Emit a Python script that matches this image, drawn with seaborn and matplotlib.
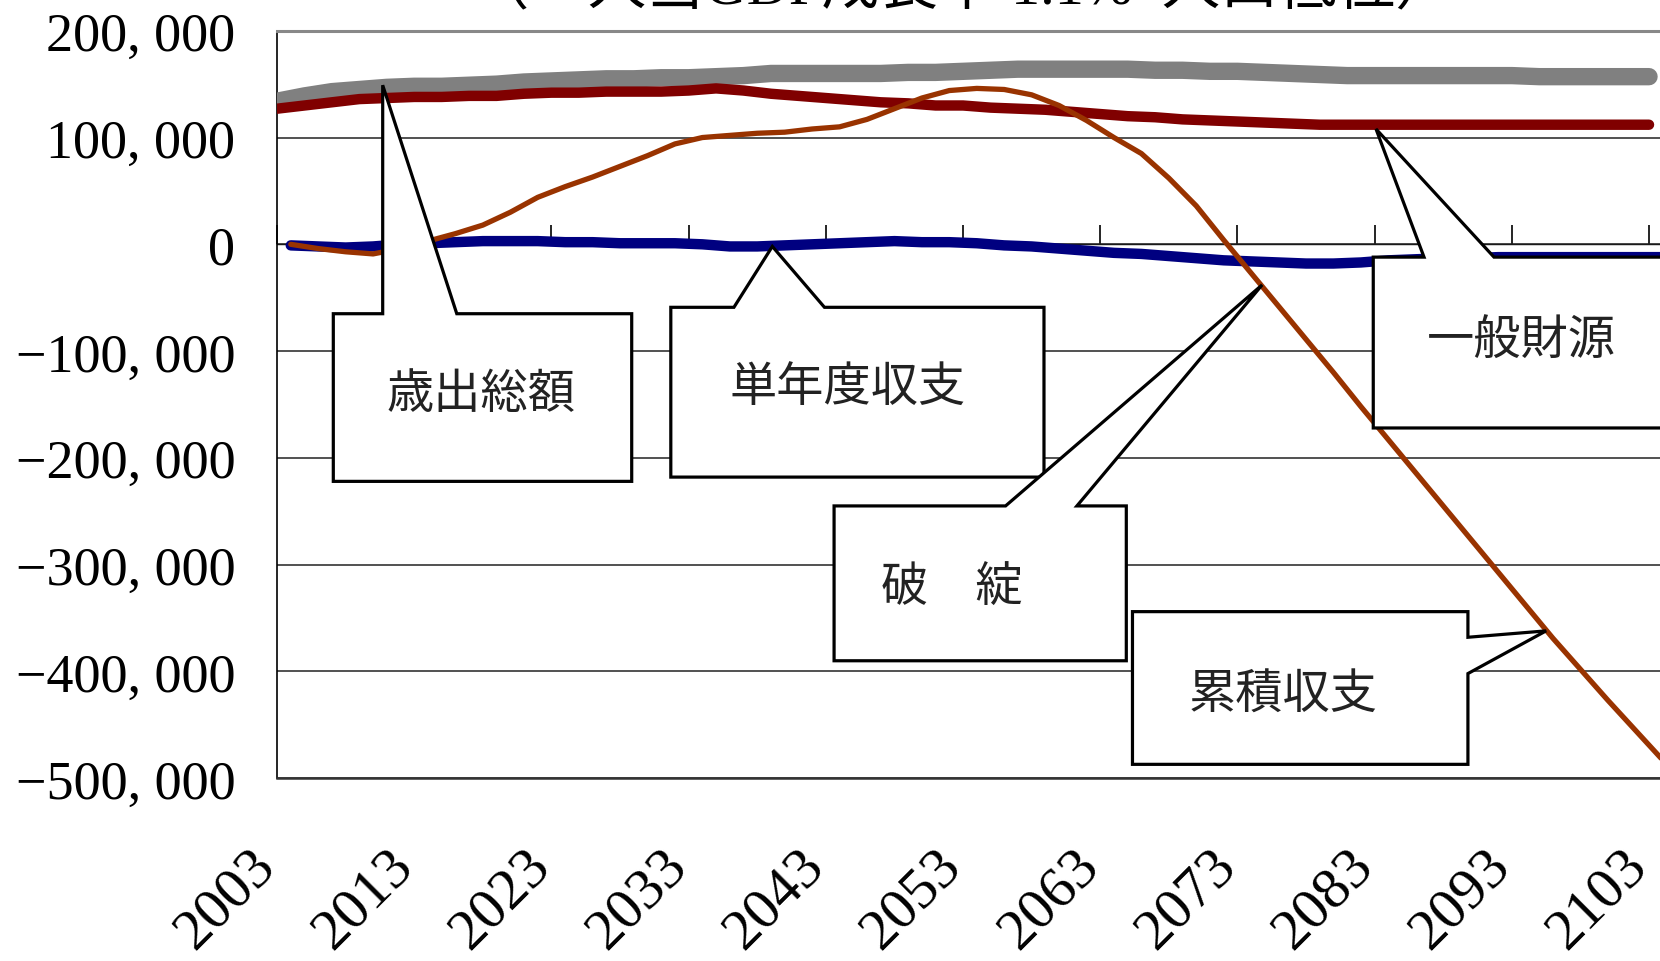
import numpy as np
import pandas as pd
import matplotlib
matplotlib.use('Agg')
import matplotlib.pyplot as plt
from matplotlib.patches import Polygon
import seaborn as sns

# 年次（歳出・一般財源は2003年から、収支は2004年から）
years_total = list(range(2003, 2104, 2))
years_balance = list(range(2004, 2105, 2))

# 歳出総額（千単位で読み取り）
spending = [134, 139, 143, 145, 147, 148, 148, 149, 150, 152,
            153, 154, 155, 155, 156, 156, 157, 158, 160, 160,
            160, 160, 160, 161, 161, 162, 163, 164, 164, 164,
            164, 164, 163, 163, 162, 162, 161, 160, 159, 158,
            158, 158, 158, 158, 158, 158, 157, 157, 157, 157, 157]

# 一般財源
revenue = [127, 130, 133, 136, 137, 138, 138, 139, 139, 141,
           142, 142, 143, 143, 143, 144, 146, 144, 141, 139,
           137, 135, 133, 132, 130, 130, 128, 127, 126, 124,
           122, 120, 119, 117, 116, 115, 114, 113, 112, 112,
           112, 112, 112, 112, 112, 112, 112, 112, 112, 112, 112]

# 単年度収支
annual = [-1, -2, -3, -2, 0, 1, 2, 3, 3, 3,
          2, 2, 1, 1, 1, 0, -2, -2, -1, 0,
          1, 2, 3, 2, 2, 1, -1, -2, -4, -6,
          -8, -9, -11, -13, -15, -16, -17, -18, -18, -17,
          -15, -14, -13, -13, -12, -12, -12, -12, -12, -12, -12]

# 累積収支
cumulative = [0, -4, -7, -9, -4, 3, 10, 18, 30, 44,
              54, 63, 73, 83, 94, 100, 102, 104, 105, 108,
              110, 117, 127, 137, 144, 146, 145, 140, 130, 116,
              100, 85, 62, 36, 4, -27, -58, -89, -120, -152,
              -183, -214, -245, -276, -307, -338, -369, -398, -427, -455, -483]

x_ticks = list(range(2003, 2104, 10))
y_ticks = list(range(-500000, 200001, 100000))
title = '（一人当GDP成長率 1.1%  人口低位）'

sns.set_theme(style='white')
plt.rcParams['font.family'] = ['Liberation Serif', 'Noto Sans CJK JP']
plt.rcParams['axes.unicode_minus'] = True

fig = plt.figure(figsize=(16.6, 9.62), dpi=100)
ax = fig.add_axes([0.1669, 0.190, 0.8331, 0.777])

sns.lineplot(x=years_total, y=np.array(spending) * 1000, color='#808080', linewidth=12.5, ax=ax, zorder=3)
sns.lineplot(x=years_total, y=np.array(revenue) * 1000, color='#800000', linewidth=7.5, ax=ax, zorder=3)
sns.lineplot(x=years_balance, y=np.array(annual) * 1000, color='#000080', linewidth=7.5, ax=ax, zorder=4)
sns.lineplot(x=years_balance, y=np.array(cumulative) * 1000, color='#993300', linewidth=3.8, ax=ax, zorder=5)
for line in ax.lines:
    line.set_solid_capstyle('round')

ax.set_xlim(2003, 2103.8)
ax.set_ylim(-500000, 200000)
ax.set_xlabel('')
ax.set_ylabel('')

ax.set_yticks(y_ticks)
ax.set_yticklabels([f'{v:,}'.replace(',', ', ').replace('-', '\u2212') for v in y_ticks])
ax.tick_params(axis='y', length=0, pad=30, labelsize=39, labelcolor='black')
ax.yaxis.grid(True, color='#222222', linewidth=1.1)
ax.set_axisbelow(True)

ax.set_xticks(x_ticks)
ax.set_xticklabels([str(y) for y in x_ticks], rotation=45, ha='right', va='baseline',
                   rotation_mode='anchor')
ax.tick_params(axis='x', length=0, pad=64, labelsize=42, labelcolor='black')

# 0の位置の目盛り
sec = ax.secondary_xaxis(500000 / 700000)
sec.set_xticks(x_ticks)
sec.set_xticklabels([''] * len(x_ticks))
sec.tick_params(axis='x', direction='out', length=14, width=1.2, color='black')
for s in sec.spines.values():
    s.set_linewidth(1.0)
    s.set_color('black')

ax.spines['right'].set_visible(False)
ax.spines['top'].set_color('#888888')
ax.spines['top'].set_linewidth(2.2)
ax.spines['left'].set_color('black')
ax.spines['left'].set_linewidth(1.2)
ax.spines['bottom'].set_color('#333333')
ax.spines['bottom'].set_linewidth(1.8)


def callout(pts, text, tx, ty):
    poly = Polygon(pts, closed=True, facecolor='white', edgecolor='black',
                   linewidth=2.3, zorder=6, joinstyle='miter')
    ax.add_patch(poly)
    ax.text(tx, ty, text, ha='center', va='center', fontsize=34,
            family=['Noto Sans CJK JP'], color='#222222', zorder=7)


callout([(2007.1, -65e3), (2010.7, -65e3), (2010.7, 149e3), (2016.1, -65e3),
         (2028.85, -65e3), (2028.85, -222e3), (2007.1, -222e3)],
        '歳出総額', 2017.9, -140e3)
callout([(2031.7, -59e3), (2036.3, -59e3), (2039.1, -2e3), (2042.9, -59e3),
         (2058.9, -59e3), (2058.9, -218e3), (2031.7, -218e3)],
        '単年度収支', 2044.6, -134e3)
callout([(2043.6, -245e3), (2056.1, -245e3), (2074.8, -38e3), (2061.3, -245e3),
         (2064.9, -245e3), (2064.9, -390e3), (2043.6, -390e3)],
        '破\u3000綻', 2052.2, -322e3)
callout([(2065.35, -344e3), (2089.8, -344e3), (2089.8, -368e3), (2095.5, -362e3),
         (2089.8, -402e3), (2089.8, -487e3), (2065.35, -487e3)],
        '累積収支', 2076.3, -422e3)
callout([(2082.9, -12e3), (2086.6, -12e3), (2083.1, 108e3), (2091.7, -12e3),
         (2106, -12e3), (2106, -172e3), (2082.9, -172e3)],
        '一般財源', 2093.7, -89e3)

fig.text(0.58, 1.0115, title, ha='center', va='center', fontsize=42,
         family=['Liberation Serif', 'Noto Sans CJK JP'], color='black')

fig.savefig('out.png', dpi=100)
plt.close()
